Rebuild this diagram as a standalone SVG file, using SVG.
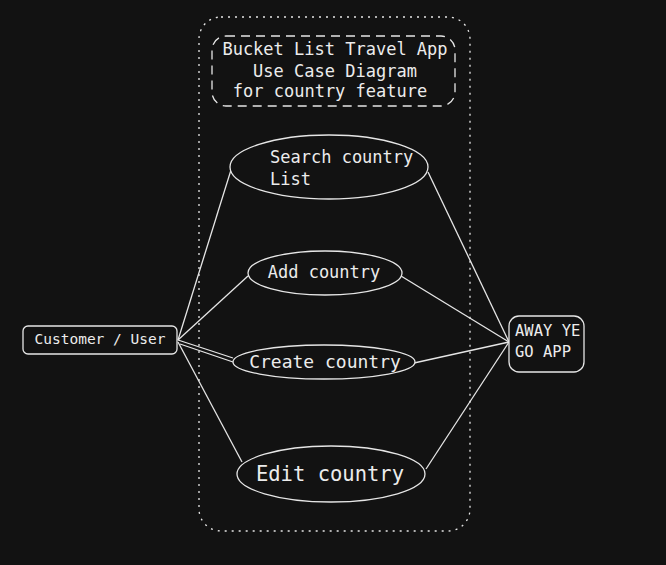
<svg xmlns="http://www.w3.org/2000/svg" width="666" height="565" viewBox="0 0 666 565">
<defs>
<style>
.s{fill:none;stroke:#e6e6e6;stroke-width:1.3}
.n{fill:#121212;stroke:#e6e6e6;stroke-width:1.3}
.t{fill:#ececec;font-family:"DejaVu Sans Mono","Liberation Mono",monospace}
</style>
</defs>
<rect width="666" height="565" fill="#121212"/>
<g id="boundary">
<rect x="199" y="17" width="271" height="514" rx="22" class="s" stroke-dasharray="2 5"/>
</g>
<g id="title">
<rect x="212" y="36" width="243" height="70" rx="14" class="s" stroke-dasharray="9 6"/>
<text class="t" font-size="17" text-anchor="middle" x="335" y="55">Bucket List Travel App</text>
<text class="t" font-size="17" text-anchor="middle" x="335" y="77">Use Case Diagram</text>
<text class="t" font-size="17" text-anchor="middle" x="330" y="97">for country feature</text>
</g>
<g id="connectors">
<line x1="178" y1="340" x2="231" y2="170" class="s"/>
<line x1="178" y1="340" x2="248" y2="276" class="s"/>
<line x1="178" y1="340" x2="233" y2="358" class="s"/>
<line x1="180" y1="344" x2="233" y2="362" class="s"/>
<line x1="178" y1="342" x2="242" y2="462" class="s"/>
<line x1="509" y1="342" x2="428" y2="172" class="s"/>
<line x1="509" y1="342" x2="401" y2="276" class="s"/>
<line x1="509" y1="342" x2="414" y2="363" class="s"/>
<line x1="509" y1="342" x2="426" y2="469" class="s"/>
</g>
<g id="search">
<ellipse cx="329" cy="167" rx="99" ry="32" class="n"/>
<text class="t" font-size="17" x="270" y="163">Search country</text>
<text class="t" font-size="17" x="270" y="185">List</text>
</g>
<g id="add">
<ellipse cx="325" cy="273" rx="77" ry="22" class="n"/>
<text class="t" font-size="17" text-anchor="middle" x="324" y="278">Add country</text>
</g>
<g id="create">
<ellipse cx="324" cy="362" rx="91" ry="17" class="n"/>
<text class="t" font-size="18" text-anchor="middle" x="325" y="368">Create country</text>
</g>
<g id="edit">
<ellipse cx="331" cy="474" rx="94" ry="28" class="n"/>
<text class="t" font-size="20.5" text-anchor="middle" x="330" y="481">Edit country</text>
</g>
<g id="customer">
<rect x="23" y="326" width="154" height="28" rx="5" class="n"/>
<text class="t" font-size="14.5" text-anchor="middle" x="100" y="344">Customer / User</text>
</g>
<g id="app">
<rect x="509" y="316" width="75" height="56" rx="10" class="n"/>
<text class="t" font-size="15.5" x="515" y="336">AWAY YE</text>
<text class="t" font-size="15.5" x="515" y="357">GO APP</text>
</g>
</svg>
